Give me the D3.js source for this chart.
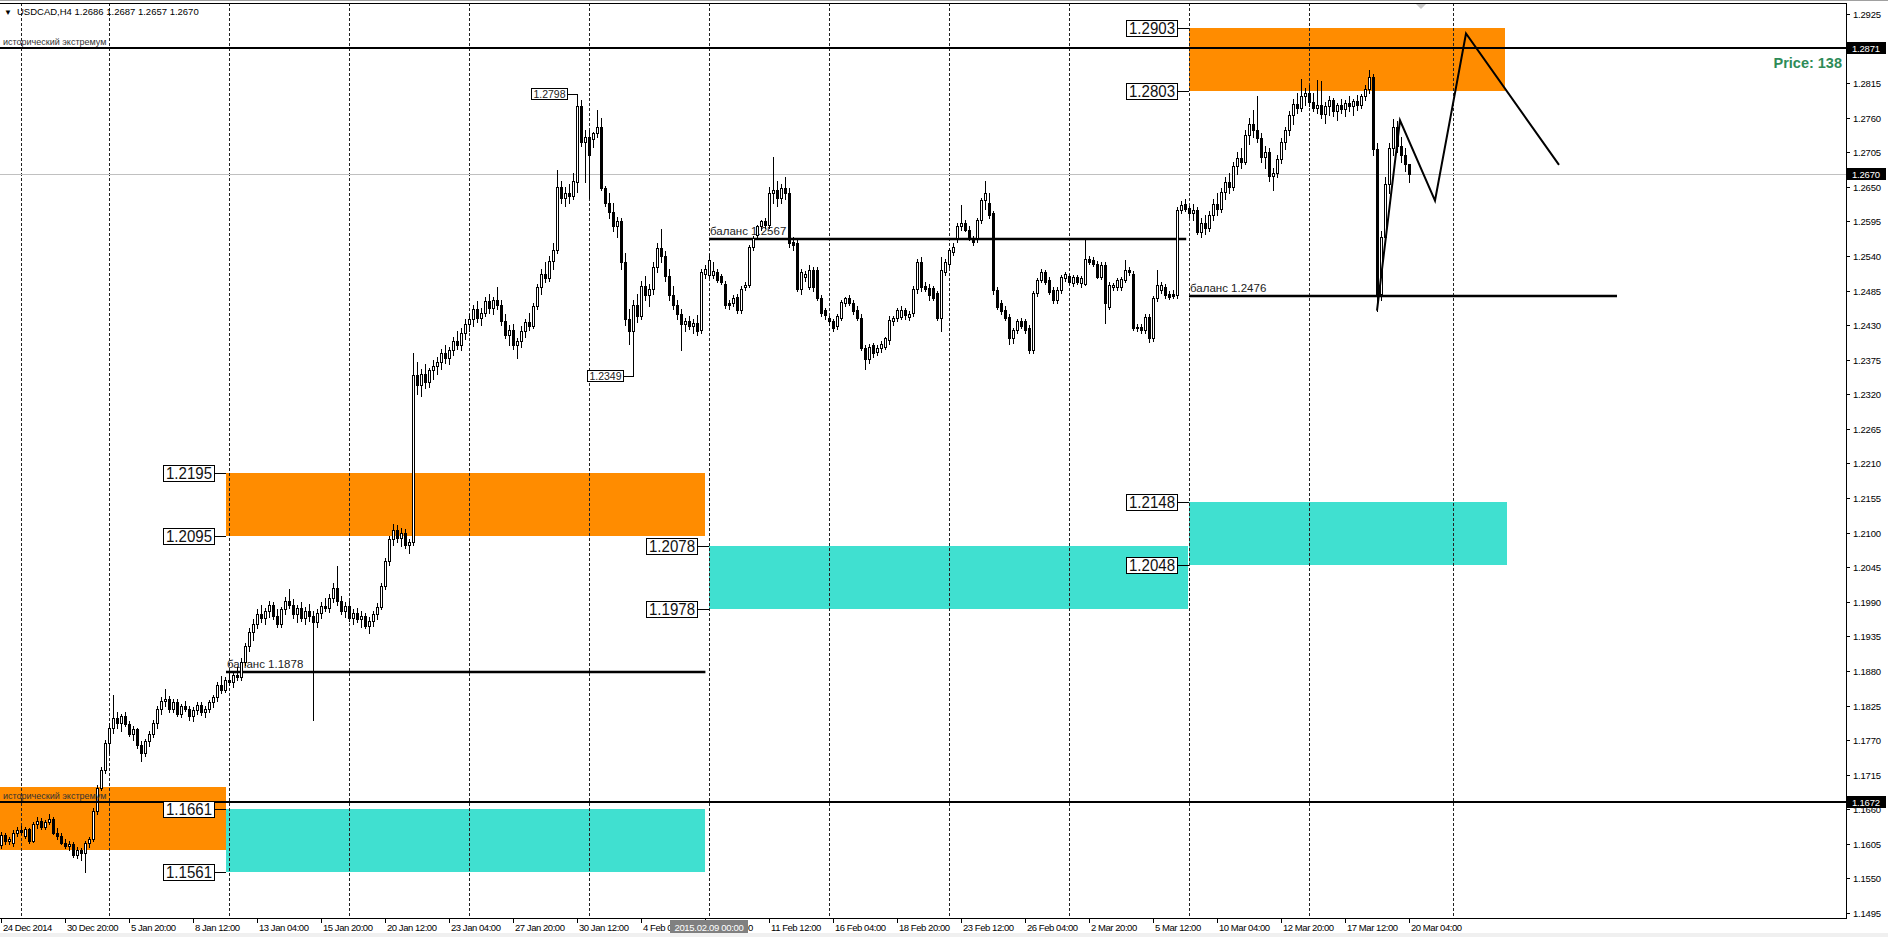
<!DOCTYPE html>
<meta charset="utf-8">
<style>
body { margin: 0; background: #fff; }
svg { display: block; font-family: "Liberation Sans", Arial, sans-serif; }
</style>
<svg width="1888" height="937"></svg>
<script src="https://cdn.jsdelivr.net/npm/d3@7/dist/d3.min.js"></script>
<script>

// ---- data ----
var symbol = "USDCAD,H4";
var lastBar = [1.2686, 1.2687, 1.2657, 1.2670];

// H4 candles [open, high, low, close], one per bar from 24 Dec 2014
var candles = [
  // 0
  [1.1603,1.1624,1.1598,1.1619],[1.1619,1.1622,1.1605,1.1610],[1.1610,1.1616,1.1604,1.1612],[1.1606,1.1627,1.1602,1.1622],
  [1.1622,1.1632,1.1618,1.1627],[1.1627,1.1634,1.1620,1.1624],[1.1618,1.1632,1.1614,1.1628],[1.1628,1.1631,1.1606,1.1610],
  [1.1610,1.1640,1.1608,1.1637],[1.1637,1.1648,1.1630,1.1642],[1.1642,1.1646,1.1628,1.1632],[1.1632,1.1643,1.1628,1.1640],
  [1.1640,1.1652,1.1636,1.1645],[1.1645,1.1648,1.1620,1.1622],[1.1622,1.1630,1.1612,1.1618],[1.1618,1.1622,1.1604,1.1606],
  [1.1606,1.1612,1.1598,1.1601],[1.1601,1.1610,1.1596,1.1605],[1.1605,1.1608,1.1584,1.1588],[1.1588,1.1600,1.1582,1.1596],
  [1.1596,1.1599,1.1580,1.1590],[1.1590,1.1610,1.1560,1.1607],[1.1607,1.1616,1.1600,1.1613],[1.1613,1.1662,1.1610,1.1658],
  [1.1658,1.1698,1.1652,1.1694],
  // 25
  [1.1694,1.1728,1.1690,1.1722],[1.1722,1.1770,1.1718,1.1765],[1.1765,1.1798,1.1750,1.1790],[1.1790,1.1842,1.1782,1.1805],
  [1.1805,1.1815,1.1790,1.1798],[1.1798,1.1812,1.1785,1.1808],[1.1808,1.1815,1.1792,1.1795],[1.1795,1.1800,1.1776,1.1780],
  [1.1780,1.1792,1.1770,1.1788],[1.1788,1.1790,1.1758,1.1762],[1.1762,1.1768,1.1737,1.1750],
  // 36
  [1.1750,1.1772,1.1745,1.1768],[1.1768,1.1785,1.1760,1.1780],[1.1780,1.1802,1.1775,1.1798],[1.1798,1.1825,1.1790,1.1820],
  [1.1820,1.1838,1.1812,1.1832],[1.1832,1.1852,1.1825,1.1836],[1.1836,1.1840,1.1815,1.1820],[1.1820,1.1835,1.1815,1.1830],
  [1.1830,1.1836,1.1808,1.1812],[1.1812,1.1828,1.1806,1.1824],[1.1824,1.1832,1.1816,1.1820],[1.1820,1.1824,1.1802,1.1808],
  [1.1808,1.1822,1.1800,1.1818],[1.1818,1.1830,1.1812,1.1826],[1.1826,1.1830,1.1810,1.1814],[1.1814,1.1824,1.1806,1.1820],
  [1.1820,1.1834,1.1815,1.1830],[1.1830,1.1842,1.1822,1.1838],[1.1838,1.1862,1.1832,1.1858],
  // 55
  [1.1858,1.1872,1.1845,1.1850],[1.1850,1.1870,1.1846,1.1866],[1.1866,1.1880,1.1858,1.1862],[1.1862,1.1878,1.1855,1.1874],
  [1.1874,1.1886,1.1866,1.1870],[1.1870,1.1900,1.1865,1.1895],
  // 61
  [1.1895,1.1925,1.1890,1.1920],[1.1920,1.1948,1.1912,1.1942],[1.1942,1.1962,1.1930,1.1955],[1.1955,1.1978,1.1948,1.1970],
  [1.1970,1.1985,1.1958,1.1965],
  // 66
  [1.1965,1.1980,1.1955,1.1975],[1.1975,1.1992,1.1966,1.1985],[1.1985,1.1990,1.1962,1.1968],[1.1968,1.1978,1.1950,1.1955],
  [1.1955,1.1982,1.1950,1.1978],[1.1978,1.1998,1.1970,1.1992],[1.1992,1.2010,1.1980,1.1985],[1.1985,1.1995,1.1965,1.1970],
  [1.1970,1.1985,1.1958,1.1980],[1.1980,1.1990,1.1960,1.1964],[1.1964,1.1982,1.1955,1.1976],[1.1976,1.1986,1.1960,1.1968],
  [1.1968,1.1975,1.1802,1.1958],
  // 79
  [1.1958,1.1978,1.1950,1.1972],[1.1972,1.1990,1.1965,1.1984],[1.1984,1.1996,1.1975,1.1980],[1.1980,1.2002,1.1974,1.1996],
  [1.1996,1.2020,1.1990,1.2012],[1.2012,1.2047,1.1985,1.1992],
  // 85
  [1.1992,1.2000,1.1970,1.1975],[1.1975,1.1990,1.1966,1.1984],[1.1984,1.1992,1.1960,1.1964],[1.1964,1.1978,1.1955,1.1972],
  [1.1972,1.1980,1.1958,1.1962],[1.1962,1.1975,1.1950,1.1968],[1.1968,1.1972,1.1948,1.1952],[1.1952,1.1966,1.1940,1.1960],
  [1.1960,1.1975,1.1952,1.1970],[1.1970,1.1988,1.1962,1.1982],[1.1982,1.2020,1.1978,1.2015],[1.2015,1.2060,1.2010,1.2055],
  [1.2055,1.2095,1.2048,1.2090],[1.2090,1.2114,1.2080,1.2105],[1.2105,1.2112,1.2085,1.2092],[1.2092,1.2108,1.2078,1.2100],
  [1.2100,1.2106,1.2075,1.2080],[1.2080,1.2090,1.2068,1.2085],[1.2085,1.2385,1.2080,1.2350],
  // 104
  [1.2350,1.2372,1.2320,1.2335],[1.2335,1.2360,1.2318,1.2352],[1.2352,1.2368,1.2330,1.2340],[1.2340,1.2362,1.2332,1.2358],
  [1.2358,1.2375,1.2345,1.2365],
  // 109
  [1.2365,1.2380,1.2352,1.2372],[1.2372,1.2392,1.2360,1.2385],[1.2385,1.2398,1.2370,1.2378],[1.2378,1.2395,1.2368,1.2390],
  [1.2390,1.2412,1.2382,1.2405],[1.2405,1.2420,1.2392,1.2398],[1.2398,1.2425,1.2390,1.2418],[1.2418,1.2440,1.2408,1.2432],
  [1.2432,1.2448,1.2420,1.2440],
  // 118
  [1.2440,1.2462,1.2428,1.2455],[1.2455,1.2468,1.2435,1.2442],[1.2442,1.2458,1.2430,1.2450],[1.2450,1.2475,1.2445,1.2468],
  [1.2468,1.2480,1.2450,1.2458],[1.2458,1.2475,1.2448,1.2470],[1.2470,1.2490,1.2455,1.2462],[1.2462,1.2470,1.2430,1.2436],
  [1.2436,1.2448,1.2410,1.2415],
  // 127
  [1.2415,1.2430,1.2398,1.2422],[1.2422,1.2432,1.2392,1.2398],[1.2398,1.2410,1.2378,1.2405],[1.2405,1.2428,1.2395,1.2420],
  [1.2420,1.2440,1.2412,1.2435],[1.2435,1.2450,1.2422,1.2428],
  // 133
  [1.2428,1.2465,1.2425,1.2460],[1.2460,1.2495,1.2455,1.2490],[1.2490,1.2520,1.2480,1.2512],[1.2512,1.2530,1.2498,1.2505],
  [1.2505,1.2540,1.2500,1.2532],[1.2532,1.2560,1.2520,1.2550],
  // 139
  [1.2550,1.2677,1.2545,1.2650],[1.2650,1.2660,1.2625,1.2632],[1.2632,1.2650,1.2620,1.2640],[1.2640,1.2655,1.2625,1.2635],
  [1.2635,1.2672,1.2630,1.2660],[1.2658,1.2798,1.2642,1.2778],[1.2778,1.2788,1.2715,1.2722],[1.2722,1.2740,1.2658,1.2730],
  [1.2730,1.2740,1.2632,1.2700],[1.2726,1.2738,1.2714,1.2735],[1.2735,1.2772,1.2730,1.2746],[1.2746,1.2760,1.2645,1.2648],
  [1.2648,1.2652,1.2620,1.2625],
  // 152
  [1.2625,1.2640,1.2600,1.2610],[1.2610,1.2625,1.2580,1.2588],[1.2588,1.2602,1.2570,1.2595],[1.2595,1.2600,1.2520,1.2530],
  [1.2530,1.2545,1.2430,1.2440],[1.2440,1.2455,1.2400,1.2420],[1.2420,1.2470,1.2349,1.2462],[1.2462,1.2480,1.2435,1.2445],
  [1.2445,1.2500,1.2440,1.2492],[1.2492,1.2508,1.2470,1.2478],[1.2478,1.2495,1.2460,1.2488],[1.2488,1.2530,1.2480,1.2522],
  [1.2522,1.2560,1.2515,1.2552],[1.2552,1.2583,1.2530,1.2540],[1.2540,1.2548,1.2500,1.2508],[1.2508,1.2520,1.2470,1.2478],
  [1.2478,1.2492,1.2455,1.2462],
  // 169
  [1.2462,1.2470,1.2440,1.2448],[1.2448,1.2455,1.2390,1.2432],[1.2432,1.2442,1.2420,1.2436],[1.2436,1.2445,1.2424,1.2428],
  [1.2428,1.2440,1.2418,1.2434],[1.2434,1.2446,1.2415,1.2420],[1.2422,1.2520,1.2418,1.2515],[1.2512,1.2525,1.2505,1.2520],
  [1.2510,1.2544,1.2505,1.2534],[1.2510,1.2530,1.2505,1.2516],[1.2515,1.2520,1.2498,1.2502],[1.2509,1.2512,1.2495,1.2499],
  [1.2496,1.2500,1.2458,1.2462],[1.2465,1.2470,1.2455,1.2462],[1.2465,1.2478,1.2460,1.2473],[1.2475,1.2480,1.2450,1.2454],
  [1.2454,1.2492,1.2450,1.2488],[1.2491,1.2498,1.2486,1.2494],[1.2494,1.2558,1.2490,1.2555],[1.2555,1.2572,1.2550,1.2568],
  [1.2573,1.2590,1.2568,1.2587],[1.2587,1.2598,1.2582,1.2595],[1.2595,1.2600,1.2585,1.2590],[1.2590,1.2650,1.2585,1.2640],
  [1.2640,1.2698,1.2625,1.2645],[1.2645,1.2660,1.2620,1.2632],[1.2632,1.2655,1.2625,1.2648],[1.2648,1.2665,1.2630,1.2640],
  [1.2640,1.2648,1.2555,1.2560],[1.2563,1.2570,1.2550,1.2557],[1.2560,1.2565,1.2485,1.2488],[1.2488,1.2520,1.2480,1.2515],
  [1.2507,1.2516,1.2500,1.2512],[1.2491,1.2525,1.2488,1.2518],[1.2518,1.2522,1.2485,1.2490],[1.2518,1.2522,1.2470,1.2473],
  [1.2473,1.2478,1.2445,1.2449],[1.2454,1.2458,1.2440,1.2446],[1.2441,1.2445,1.2430,1.2436],[1.2436,1.2440,1.2420,1.2425],
  [1.2428,1.2448,1.2424,1.2444],[1.2441,1.2470,1.2438,1.2467],[1.2465,1.2475,1.2460,1.2473],[1.2473,1.2478,1.2462,1.2465],
  [1.2465,1.2470,1.2448,1.2452],[1.2454,1.2460,1.2438,1.2441],[1.2441,1.2448,1.2390,1.2393],[1.2393,1.2398,1.2361,1.2377],
  [1.2377,1.2400,1.2370,1.2396],[1.2398,1.2402,1.2380,1.2385],[1.2388,1.2398,1.2382,1.2393],[1.2393,1.2405,1.2388,1.2400],
  [1.2396,1.2412,1.2392,1.2409],[1.2406,1.2445,1.2400,1.2438],[1.2436,1.2445,1.2430,1.2441],[1.2441,1.2458,1.2436,1.2454],
  [1.2443,1.2460,1.2440,1.2454],[1.2454,1.2458,1.2440,1.2446],[1.2443,1.2452,1.2438,1.2448],[1.2449,1.2492,1.2445,1.2488],
  [1.2488,1.2535,1.2482,1.2531],[1.2531,1.2538,1.2485,1.2490],[1.2492,1.2498,1.2485,1.2487],[1.2489,1.2495,1.2470,1.2478],
  [1.2489,1.2492,1.2470,1.2474],[1.2481,1.2485,1.2438,1.2441],[1.2441,1.2539,1.2420,1.2518],[1.2515,1.2535,1.2510,1.2531],
  [1.2528,1.2552,1.2522,1.2549],[1.2547,1.2560,1.2542,1.2555],[1.2568,1.2592,1.2562,1.2587],[1.2587,1.2621,1.2582,1.2592],
  [1.2592,1.2598,1.2580,1.2582],[1.2582,1.2588,1.2565,1.2568],[1.2568,1.2572,1.2558,1.2563],[1.2568,1.2600,1.2562,1.2597],
  [1.2597,1.2632,1.2592,1.2629],[1.2629,1.2660,1.2615,1.2640],[1.2625,1.2640,1.2600,1.2605],[1.2608,1.2612,1.2480,1.2486],
  [1.2486,1.2490,1.2455,1.2459],[1.2465,1.2470,1.2448,1.2452],[1.2454,1.2460,1.2438,1.2441],[1.2443,1.2448,1.2400,1.2409],
  [1.2409,1.2425,1.2402,1.2422],[1.2422,1.2440,1.2418,1.2436],[1.2436,1.2442,1.2425,1.2428],[1.2436,1.2440,1.2418,1.2422],
  [1.2425,1.2430,1.2385,1.2390],[1.2390,1.2485,1.2386,1.2481],[1.2481,1.2505,1.2476,1.2502],[1.2502,1.2520,1.2498,1.2515],
  [1.2515,1.2518,1.2496,1.2499],[1.2502,1.2506,1.2480,1.2483],[1.2486,1.2490,1.2466,1.2470],[1.2470,1.2490,1.2465,1.2486],
  [1.2486,1.2510,1.2482,1.2507],[1.2505,1.2515,1.2500,1.2512],[1.2508,1.2512,1.2495,1.2499],[1.2497,1.2510,1.2493,1.2507],
  [1.2506,1.2510,1.2495,1.2499],[1.2497,1.2508,1.2490,1.2505],[1.2496,1.2565,1.2494,1.2536],[1.2536,1.2540,1.2528,1.2531],
  [1.2533,1.2538,1.2524,1.2528],[1.2528,1.2532,1.2505,1.2507],[1.2507,1.2530,1.2503,1.2526],[1.2526,1.2530,1.2433,1.2465],
  [1.2459,1.2498,1.2455,1.2494],[1.2490,1.2497,1.2486,1.2494],[1.2490,1.2505,1.2486,1.2502],[1.2490,1.2506,1.2486,1.2503],
  [1.2502,1.2534,1.2498,1.2518],[1.2518,1.2522,1.2510,1.2514],[1.2512,1.2516,1.2422,1.2425],[1.2427,1.2432,1.2420,1.2425],
  [1.2427,1.2432,1.2418,1.2422],[1.2422,1.2448,1.2418,1.2443],[1.2443,1.2448,1.2404,1.2409],[1.2409,1.2476,1.2405,1.2473],
  [1.2473,1.2518,1.2468,1.2494],[1.2486,1.2498,1.2482,1.2494],[1.2490,1.2495,1.2474,1.2478],[1.2479,1.2485,1.2472,1.2475],
  [1.2480,1.2486,1.2474,1.2477],[1.2478,1.2618,1.2474,1.2613],[1.2613,1.2628,1.2608,1.2621],[1.2622,1.2630,1.2612,1.2615],
  [1.2616,1.2620,1.2602,1.2608],[1.2608,1.2622,1.2598,1.2613],[1.2613,1.2618,1.2575,1.2579],
  // 300
  [1.2579,1.2600,1.2570,1.2592],[1.2592,1.2605,1.2575,1.2584],[1.2584,1.2612,1.2580,1.2606],[1.2606,1.2630,1.2598,1.2622],
  [1.2622,1.2640,1.2605,1.2615],[1.2615,1.2648,1.2610,1.2642],[1.2642,1.2665,1.2630,1.2658],[1.2658,1.2672,1.2640,1.2650],
  [1.2650,1.2690,1.2645,1.2684],[1.2684,1.2705,1.2670,1.2696],[1.2696,1.2712,1.2680,1.2690],[1.2690,1.2740,1.2686,1.2732],
  [1.2732,1.2760,1.2718,1.2750],[1.2750,1.2772,1.2730,1.2740],[1.2740,1.2795,1.2722,1.2728],[1.2728,1.2735,1.2690,1.2698],
  [1.2698,1.2715,1.2680,1.2706],[1.2706,1.2712,1.2660,1.2668],[1.2668,1.2680,1.2645,1.2672],[1.2672,1.2700,1.2665,1.2695],
  [1.2695,1.2728,1.2688,1.2722],[1.2722,1.2745,1.2710,1.2740],[1.2740,1.2770,1.2732,1.2765],[1.2765,1.2790,1.2750,1.2782],
  [1.2782,1.2800,1.2768,1.2776],[1.2776,1.2822,1.2770,1.2795],[1.2795,1.2808,1.2780,1.2800],[1.2800,1.2812,1.2778,1.2785],
  [1.2785,1.2800,1.2770,1.2775],[1.2775,1.2820,1.2768,1.2780],[1.2780,1.2818,1.2760,1.2766],[1.2766,1.2785,1.2752,1.2778],
  [1.2778,1.2795,1.2765,1.2788],[1.2788,1.2792,1.2762,1.2770],[1.2770,1.2784,1.2756,1.2780],[1.2780,1.2790,1.2768,1.2774],
  [1.2774,1.2788,1.2762,1.2784],[1.2784,1.2795,1.2770,1.2778],[1.2778,1.2790,1.2765,1.2786],[1.2786,1.2796,1.2772,1.2780],
  [1.2780,1.2798,1.2775,1.2794],[1.2794,1.2812,1.2788,1.2806],[1.2806,1.2836,1.2800,1.2825],
  // 343
  [1.2825,1.2830,1.2700,1.2710],[1.2710,1.2720,1.2453,1.2480],[1.2480,1.2580,1.2470,1.2570],[1.2570,1.2665,1.2560,1.2655],
  [1.2655,1.2720,1.2640,1.2712],[1.2712,1.2758,1.2700,1.2745],[1.2745,1.2755,1.2705,1.2715],[1.2715,1.2730,1.2690,1.2700],
  [1.2700,1.2712,1.2675,1.2686],[1.2686,1.2687,1.2657,1.2670]
];

// supply (orange) / demand (turquoise) zones, in bar units
var zoneStart = [-2, 56.25, 56.25, 177, 297, 297];
var zoneEnd   = [56.25, 176.1, 176.1, 296.8, 376.5, 376];
var zoneHigh  = [1.1695, 1.1661, 1.2195, 1.2078, 1.2148, 1.2903];
var zoneLow   = [1.1595, 1.1561, 1.2095, 1.1978, 1.2048, 1.2803];
var zoneType  = ["supply", "demand", "supply", "demand", "demand", "supply"];

var zoneLabels    = [1.2195, 1.2095, 1.1661, 1.1561, 1.2078, 1.1978, 1.2148, 1.2048, 1.2903, 1.2803];
var zoneLabelBars = [56.25, 56.25, 56.25, 56.25, 177, 177, 297, 297, 297, 297];

var balanceLevels = [1.1878, 1.2567, 1.2476];
var balanceStart  = [56.25, 177, 297];
var balanceEnd    = [176.1, 296.3, 404];

var extremeLevels = [1.2871, 1.1672];
var extremeText = "исторический экстремум";
var currentPrice = 1.2670;

var swingPrices = [1.2798, 1.2349];
var swingBars   = [144, 158];
var swingSide   = ["high", "low"];

// projected path
var zigBars   = [344, 349.75, 358.5, 366.25, 389.5];
var zigPrices = [1.2453, 1.2756, 1.2628, 1.2894, 1.2685];

var weekGrid = [5, 27, 57, 87, 117, 147, 177, 207, 237, 267, 297, 327, 363];
var timeLabels = ["24 Dec 2014", "30 Dec 20:00", "5 Jan 20:00", "8 Jan 12:00", "13 Jan 04:00", "15 Jan 20:00",
  "20 Jan 12:00", "23 Jan 04:00", "27 Jan 20:00", "30 Jan 12:00", "4 Feb 04:00", "6 Feb 20:00",
  "11 Feb 12:00", "16 Feb 04:00", "18 Feb 20:00", "23 Feb 12:00", "26 Feb 04:00", "2 Mar 20:00",
  "5 Mar 12:00", "10 Mar 04:00", "12 Mar 20:00", "17 Mar 12:00", "20 Mar 04:00"];
var barsPerLabel = 16;
var cursorBar = 177, cursorText = "2015.02.09 00:00";
var shiftBar = 355;

var priceTicks = ["1.2925","1.2870","1.2815","1.2760","1.2705","1.2650","1.2595","1.2540","1.2485",
  "1.2430","1.2375","1.2320","1.2265","1.2210","1.2155","1.2100","1.2045","1.1990","1.1935",
  "1.1880","1.1825","1.1770","1.1715","1.1660","1.1605","1.1550","1.1495"];
var priceTags = [1.2871, 1.2670, 1.1672];
var infoText = "Price: 138";

// ---- layout ----
var svg = d3.select("svg"),
    width = +svg.attr("width"),
    height = +svg.attr("height");
var plotR = 1846, plotT = 3, plotB = 918;

var x = d3.scaleLinear().domain([0, 461.25]).range([1, 1846]);
var y = d3.scaleLinear().domain([1.1495, 1.2925]).range([913, 14]);

svg.append("rect").attr("width", width).attr("height", height).attr("fill", "#fff");
svg.append("rect").attr("x", 0).attr("y", 933).attr("width", width).attr("height", 4).attr("fill", "#f0f0f0");

svg.append("defs").append("clipPath").attr("id", "plot")
  .append("rect").attr("x", 0).attr("y", plotT).attr("width", plotR).attr("height", plotB - plotT);

var plot = svg.append("g").attr("clip-path", "url(#plot)");

// zones
plot.append("g").attr("shape-rendering", "crispEdges")
  .selectAll("rect").data(zoneStart).enter().append("rect")
  .attr("x", function(d, i) { return Math.round(x(zoneStart[i])); })
  .attr("width", function(d, i) { return Math.round(x(zoneEnd[i])) - Math.round(x(zoneStart[i])); })
  .attr("y", function(d, i) { return Math.round(y(zoneHigh[i])); })
  .attr("height", function(d, i) { return Math.round(y(zoneLow[i])) - Math.round(y(zoneHigh[i])); })
  .attr("fill", function(d, i) { return zoneType[i] == "supply" ? "#ff8c00" : "#40e0d0"; });

// weekly grid
plot.append("g").selectAll("line").data(weekGrid).enter().append("line")
  .attr("x1", function(d) { return Math.round(x(d)) + 0.5; })
  .attr("x2", function(d) { return Math.round(x(d)) + 0.5; })
  .attr("y1", plotT).attr("y2", plotB)
  .attr("stroke", "#222").attr("stroke-dasharray", "3,2");

// current price line
plot.append("line")
  .attr("x1", 0).attr("x2", plotR)
  .attr("y1", Math.round(y(currentPrice)) + 0.5).attr("y2", Math.round(y(currentPrice)) + 0.5)
  .attr("stroke", "#c0c0c0");

// balance lines
plot.append("g").selectAll("line").data(balanceLevels).enter().append("line")
  .attr("x1", function(d, i) { return x(balanceStart[i]); })
  .attr("x2", function(d, i) { return x(balanceEnd[i]); })
  .attr("y1", function(d) { return Math.round(y(d)); })
  .attr("y2", function(d) { return Math.round(y(d)); })
  .attr("stroke", "#000").attr("stroke-width", 2.5);

plot.append("g").selectAll("text").data(balanceLevels).enter().append("text")
  .attr("x", function(d, i) { return x(balanceStart[i]) + 1; })
  .attr("y", function(d) { return Math.round(y(d)) - 4; })
  .attr("font-size", "11.5px").attr("fill", "#222")
  .text(function(d) { return "баланс " + d.toFixed(4); });

// candles
var cg = plot.append("g").attr("shape-rendering", "crispEdges");
cg.selectAll("line").data(candles).enter().append("line")
  .attr("x1", function(d, i) { return Math.round(x(i)) + 0.5; })
  .attr("x2", function(d, i) { return Math.round(x(i)) + 0.5; })
  .attr("y1", function(d) { return Math.round(y(d[1])); })
  .attr("y2", function(d) { return Math.round(y(d[2])) + 1; })
  .attr("stroke", "#000");

cg.selectAll("rect").data(candles).enter().append("rect")
  .attr("x", function(d, i) { return Math.round(x(i)) - 0.5; })
  .attr("width", 2)
  .attr("y", function(d) { return Math.round(y(Math.max(d[0], d[3]))) + 0.5; })
  .attr("height", function(d) {
    return Math.max(0, Math.round(y(Math.min(d[0], d[3]))) - Math.round(y(Math.max(d[0], d[3]))));
  })
  .attr("fill", function(d) { return d[3] >= d[0] ? "#fff" : "#000"; })
  .attr("stroke", "#000");

// historical extreme lines
plot.append("g").selectAll("line").data(extremeLevels).enter().append("line")
  .attr("x1", 0).attr("x2", plotR)
  .attr("y1", function(d) { return Math.round(y(d)); })
  .attr("y2", function(d) { return Math.round(y(d)); })
  .attr("stroke", "#000").attr("stroke-width", 2);

plot.append("g").selectAll("text").data(extremeLevels).enter().append("text")
  .attr("x", 3)
  .attr("y", function(d) { return Math.round(y(d)) - 3; })
  .attr("font-size", "9px").attr("fill", "#333")
  .text(extremeText);

// projected zigzag
plot.append("path")
  .datum(zigBars)
  .attr("d", d3.line()
    .x(function(d) { return x(d); })
    .y(function(d, i) { return y(zigPrices[i]); }))
  .attr("fill", "none").attr("stroke", "#000").attr("stroke-width", 2);

// zone price labels
var zl = plot.append("g").selectAll("g").data(zoneLabels).enter().append("g")
  .attr("transform", function(d, i) {
    return "translate(" + Math.round(x(zoneLabelBars[i])) + "," + Math.round(y(d)) + ")";
  });
zl.append("line").attr("x1", -11).attr("x2", 0).attr("y1", 0.5).attr("y2", 0.5).attr("stroke", "#000");
zl.append("rect").attr("x", -62.5).attr("y", -7.5).attr("width", 51).attr("height", 16)
  .attr("fill", "#fff").attr("stroke", "#000").attr("shape-rendering", "crispEdges");
zl.append("text").attr("x", -37).attr("y", 6).attr("text-anchor", "middle")
  .attr("font-size", "16px").attr("fill", "#111")
  .attr("textLength", 46).attr("lengthAdjust", "spacingAndGlyphs")
  .text(function(d) { return d.toFixed(4); });

// swing high / low labels
var sl = plot.append("g").selectAll("g").data(swingPrices).enter().append("g")
  .attr("transform", function(d, i) {
    return "translate(" + Math.round(x(swingBars[i])) + "," + Math.round(y(d)) + ")";
  });
sl.append("path")
  .attr("d", function(d, i) { return "M-9,0.5H0.5V" + (swingSide[i] == "high" ? 10 : -10); })
  .attr("fill", "none").attr("stroke", "#000");
sl.append("rect").attr("x", -45.5).attr("y", -5.5).attr("width", 36).attr("height", 11)
  .attr("fill", "#fff").attr("stroke", "#000").attr("shape-rendering", "crispEdges");
sl.append("text").attr("x", -27.5).attr("y", 4).attr("text-anchor", "middle")
  .attr("font-size", "10.5px").attr("fill", "#222")
  .text(function(d) { return d.toFixed(4); });

// chart frame
svg.append("line").attr("x1", 0).attr("x2", width).attr("y1", 0.5).attr("y2", 0.5).attr("stroke", "#a0a0a0");
svg.append("line").attr("x1", 0).attr("x2", plotR).attr("y1", plotT + 0.5).attr("y2", plotT + 0.5).attr("stroke", "#000");
svg.append("line").attr("x1", plotR + 0.5).attr("x2", plotR + 0.5).attr("y1", plotT).attr("y2", plotB + 1).attr("stroke", "#000");
svg.append("line").attr("x1", 0).attr("x2", plotR + 1).attr("y1", plotB + 0.5).attr("y2", plotB + 0.5).attr("stroke", "#000");

// shift marker
svg.append("path")
  .attr("d", "M" + (x(shiftBar) - 5) + ",4h10l-5,5z")
  .attr("fill", "#c8c8c8");

// header
svg.append("text").attr("x", 4).attr("y", 15).attr("font-size", "8px").attr("fill", "#000").text("▼");
svg.append("text").attr("x", 17).attr("y", 15).attr("font-size", "9.5px").attr("fill", "#000")
  .text(symbol + "  " + lastBar.map(function(v) { return v.toFixed(4); }).join(" "));

// info
svg.append("text").attr("x", 1842).attr("y", 68).attr("text-anchor", "end")
  .attr("font-size", "14.5px").attr("font-weight", "bold").attr("fill", "#2e8b57")
  .text(infoText);

// right price axis
var ra = svg.append("g");
ra.selectAll("line").data(priceTicks).enter().append("line")
  .attr("x1", plotR).attr("x2", plotR + 4)
  .attr("y1", function(d) { return Math.round(y(+d)) + 0.5; })
  .attr("y2", function(d) { return Math.round(y(+d)) + 0.5; })
  .attr("stroke", "#000");
ra.selectAll("text").data(priceTicks).enter().append("text")
  .attr("x", plotR + 7)
  .attr("y", function(d) { return Math.round(y(+d)) + 4; })
  .attr("font-size", "9.5px").attr("letter-spacing", "-0.2px").attr("fill", "#000")
  .text(function(d) { return d; });

var tg = ra.selectAll("g").data(priceTags).enter().append("g")
  .attr("transform", function(d) { return "translate(" + (plotR + 1) + "," + Math.round(y(d)) + ")"; });
tg.append("rect").attr("x", 0).attr("y", -6).attr("width", 39).attr("height", 12).attr("fill", "#000");
tg.append("text").attr("x", 5).attr("y", 4).attr("font-size", "9.5px").attr("letter-spacing", "-0.2px")
  .attr("fill", "#fff").text(function(d) { return d.toFixed(4); });

// bottom time axis
var ba = svg.append("g");
ba.selectAll("line").data(timeLabels).enter().append("line")
  .attr("x1", function(d, i) { return Math.round(x(i * barsPerLabel)) + 0.5; })
  .attr("x2", function(d, i) { return Math.round(x(i * barsPerLabel)) + 0.5; })
  .attr("y1", plotB).attr("y2", plotB + 5)
  .attr("stroke", "#000");
ba.selectAll("text").data(timeLabels).enter().append("text")
  .attr("x", function(d, i) { return Math.round(x(i * barsPerLabel)) + 2; })
  .attr("y", 931)
  .attr("font-size", "9.5px").attr("letter-spacing", "-0.45px").attr("fill", "#000")
  .text(function(d) { return d; });

var cx = Math.round(x(cursorBar));
ba.append("rect").attr("x", cx - 39).attr("y", 920).attr("width", 78).attr("height", 13).attr("fill", "#808080");
ba.append("text").attr("x", cx).attr("y", 931).attr("text-anchor", "middle")
  .attr("font-size", "9.5px").attr("letter-spacing", "-0.3px").attr("fill", "#fff").text(cursorText);

</script>
